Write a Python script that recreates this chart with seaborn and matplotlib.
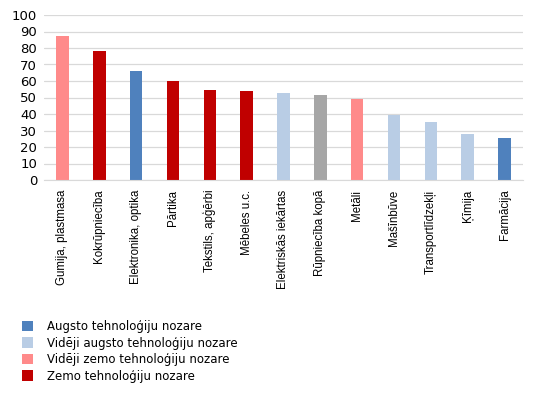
import matplotlib
matplotlib.use("Agg")
import matplotlib.pyplot as plt
import seaborn as sns
import pandas as pd
from matplotlib.patches import Patch

categories = ["Gumija, plastmasa", "Kokrūpniecība", "Elektronika, optika", "Pārtika",
              "Tekstils, apģērbi", "Mēbeles u.c.", "Elektriskās iekārtas", "Rūpniecība kopā",
              "Metāli", "Mašīnbūve", "Transportlīdzekļi", "Ķīmija", "Farmācija"]
values = [87, 78, 66, 60, 54.5, 54, 52.5, 51.5, 49, 39.5, 35, 28, 25.5]
groups = ["Vidēji zemo tehnoloģiju nozare", "Zemo tehnoloģiju nozare", "Augsto tehnoloģiju nozare",
          "Zemo tehnoloģiju nozare", "Zemo tehnoloģiju nozare", "Zemo tehnoloģiju nozare",
          "Vidēji augsto tehnoloģiju nozare", "Kopā", "Vidēji zemo tehnoloģiju nozare",
          "Vidēji augsto tehnoloģiju nozare", "Vidēji augsto tehnoloģiju nozare",
          "Vidēji augsto tehnoloģiju nozare", "Augsto tehnoloģiju nozare"]
legend_groups = ["Augsto tehnoloģiju nozare", "Vidēji augsto tehnoloģiju nozare",
                 "Vidēji zemo tehnoloģiju nozare", "Zemo tehnoloģiju nozare"]
palette = {"Augsto tehnoloģiju nozare": "#4F81BD",
           "Vidēji augsto tehnoloģiju nozare": "#B9CDE5",
           "Vidēji zemo tehnoloģiju nozare": "#FF8A8A",
           "Zemo tehnoloģiju nozare": "#C00000",
           "Kopā": "#A6A6A6"}

df = pd.DataFrame({"cat": categories, "val": values, "grp": groups})

sns.set_style("white")
plt.rcParams["font.family"] = ["DejaVu Sans"]

fig = plt.figure(figsize=(5.37, 3.97), dpi=100)
ax = fig.add_axes([44/537, 1-180/397, (523-44)/537, (180-15)/397])
sns.barplot(data=df, x="cat", y="val", hue="grp", palette=palette, dodge=False,
            width=0.34, ax=ax, legend=False, saturation=1, linewidth=0)

ax.set_ylim(0, 100)
ax.set_yticks(range(0, 101, 10))
ax.set_xlim(-0.5, len(categories)-0.5)
ax.yaxis.grid(True, color="#D9D9D9", linewidth=0.9)
ax.set_axisbelow(True)
for s in ["left", "right", "top"]:
    ax.spines[s].set_visible(False)
ax.spines["bottom"].set_color("#D9D9D9")
ax.tick_params(axis="both", length=0, colors="#000000")
ax.tick_params(axis="y", pad=5, labelsize=9.5)
ax.tick_params(axis="x", pad=7)
ax.set_xticks(range(len(categories)))
ax.set_xticklabels(categories, rotation=90, fontsize=8.3, family=["Liberation Sans", "DejaVu Sans"])
ax.set_xlabel("")
ax.set_ylabel("")

handles = [Patch(facecolor=palette[g], edgecolor="none") for g in legend_groups]
fig.legend(handles, legend_groups, loc="upper left", bbox_to_anchor=(22/537, 1-320/397),
           frameon=False, fontsize=8.5, handlelength=0.95, handleheight=0.95,
           handletextpad=1.2, labelspacing=0.3, borderaxespad=0, borderpad=0,
           labelcolor="#000000")

fig.savefig("out.png", dpi=100)
